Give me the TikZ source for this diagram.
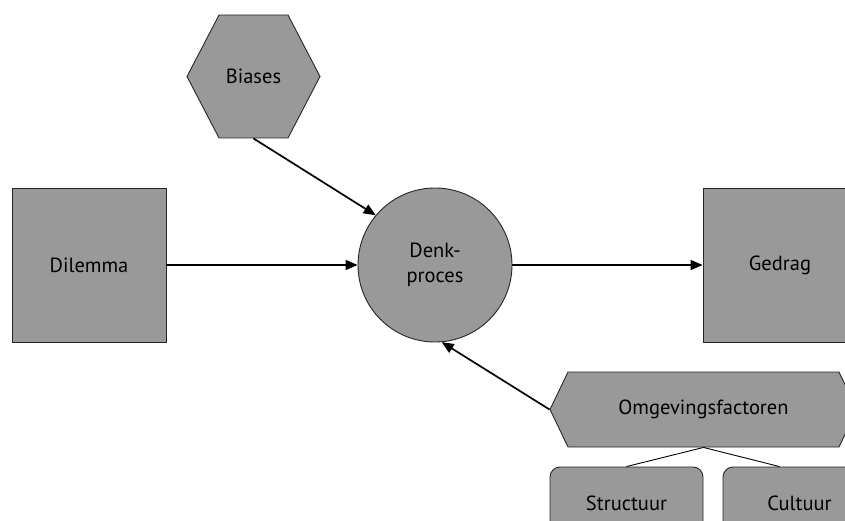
\documentclass[tikz,border=0pt]{standalone}
\usepackage{fontspec}
\setmainfont{PT Sans}
\usepackage{xcolor}
\usetikzlibrary{shapes,arrows.meta,positioning,calc}
\definecolor{boxgray}{RGB}{153,153,153}

\begin{document}
\begin{tikzpicture}[x=1pt,y=-1pt]
  \tikzstyle{block}=[draw=black!85, fill=boxgray, line width=0.9pt, inner sep=0pt, font=\fontsize{20.5}{25}\selectfont, align=center]
  \tikzstyle{square}=[block, rectangle, minimum width=154pt, minimum height=154pt]
  \tikzstyle{hexa}=[block, signal, signal to=west and east]
  \tikzstyle{sub}=[block, rectangle, rounded corners=10pt, minimum width=153pt, minimum height=72pt]
  \tikzstyle{arr}=[-{Triangle[length=12pt,width=10pt]}, line width=1.7pt]

  \clip (0,0) rectangle (845,521);

  \node[square] (dilemma) at (89,265) {Dilemma};
  \node[block, circle, minimum size=154pt] (denk) at (435,265) {Denk-\\proces};
  \node[square] (gedrag) at (780,265) {Gedrag};
  \node[hexa, minimum width=133pt, minimum height=123pt, signal pointer angle=125] (biases) at (253.5,76.5) {Biases};
  \node[hexa, minimum width=307pt, minimum height=75pt, signal pointer angle=128.7] (omg) at (703.5,409.5) {Omgevingsfactoren};

  % onderliggende factoren
  \node[sub] (structuur) at (626.5,503) {Structuur};
  \node[sub] (cultuur) at (799.5,503) {Cultuur};

  \draw[arr] (biases.south) -- (denk.140);
  \draw[arr] (dilemma.east) -- (denk.west);
  \draw[arr] (denk.east) -- (gedrag.west);
  \draw[arr] (omg.west) -- (denk.-85);

  \draw[line width=0.9pt] (omg.south) -- (structuur.north);
  \draw[line width=0.9pt] (omg.south) -- ([xshift=-20pt]cultuur.north);
\end{tikzpicture}
\end{document}
